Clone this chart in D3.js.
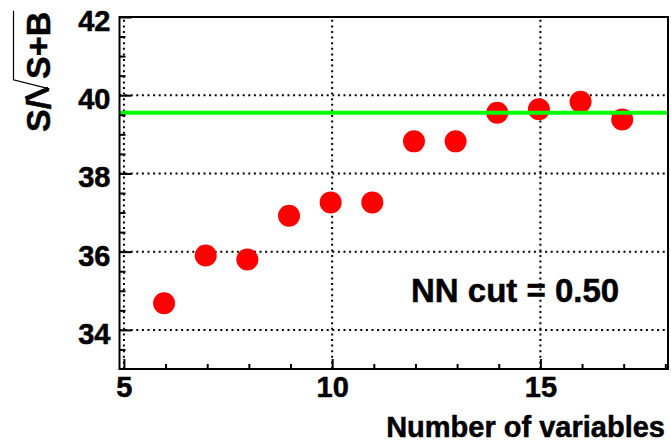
<!DOCTYPE html>
<html>
<head>
<meta charset="utf-8">
<script src="https://cdn.jsdelivr.net/npm/d3@7"></script>
<style>
  body { margin: 0; background: #fff; }
  text { font-family: "Liberation Sans", Arial, Helvetica, sans-serif; font-weight: bold; fill: #000; stroke: #000; stroke-width: 0.5px; }
</style>
</head>
<body>
<div id="container"></div>
<script>
// values
const nVariables = [6, 7, 8, 9, 10, 11, 12, 13, 14, 15, 16, 17];
const significance = [34.68, 35.9, 35.8, 36.92, 37.26, 37.26, 38.82, 38.82, 39.55, 39.64, 39.83, 39.38];
const referenceLevel = 39.55;
const xRange = [4.93, 18.1];
const yRange = [33, 42];
const xMajorTicks = [5, 10, 15];
const xMinorTicks = [6, 7, 8, 9, 11, 12, 13, 14, 16, 17, 18];
const yMajorTicks = [34, 36, 38, 40, 42];
const yMinorTicks = [33.5, 34.5, 35, 35.5, 36.5, 37, 37.5, 38.5, 39, 39.5, 40.5, 41, 41.5];
const cutLabel = 'NN cut = 0.50';

const width = 671;
const height = 443;
const frame = { left: 119.5, right: 668, top: 17, bottom: 369 };

const svg = d3.select('#container')
              .append('svg')
              .attr('width', width)
              .attr('height', height);

const x = d3.scaleLinear().domain(xRange).range([frame.left, frame.right]);
const y = d3.scaleLinear().domain(yRange).range([frame.bottom, frame.top]);

// dotted grid
const grid = svg.append('g')
                .attr('stroke', '#000')
                .attr('stroke-width', 2)
                .attr('stroke-dasharray', '2,3.6');
grid.selectAll('.vgrid')
    .data(xMajorTicks)
    .enter()
    .append('line')
    .attr('x1', d => x(d) + 1.5)
    .attr('x2', d => x(d) + 1.5)
    .attr('y1', frame.bottom)
    .attr('y2', frame.top);
grid.selectAll('.hgrid')
    .data(yMajorTicks)
    .enter()
    .append('line')
    .attr('x1', frame.left)
    .attr('x2', frame.right)
    .attr('y1', d => y(d))
    .attr('y2', d => y(d));

// markers
svg.selectAll('circle')
   .data(nVariables)
   .enter()
   .append('circle')
   .attr('cx', d => x(d))
   .attr('cy', (d, i) => y(significance[i]))
   .attr('r', 11)
   .attr('fill', '#ff0000');

// reference level
svg.append('line')
   .attr('x1', frame.left)
   .attr('x2', frame.right)
   .attr('y1', y(referenceLevel))
   .attr('y2', y(referenceLevel))
   .attr('stroke', '#00ff00')
   .attr('stroke-width', 4);

// frame
svg.append('rect')
   .attr('x', frame.left)
   .attr('y', frame.top)
   .attr('width', frame.right - frame.left)
   .attr('height', frame.bottom - frame.top)
   .attr('fill', 'none')
   .attr('stroke', '#000')
   .attr('stroke-width', 2);

// axes, ticks pointing inside
const xAxis = svg.append('g')
                 .attr('transform', 'translate(' + 1.5 + ',' + frame.bottom + ')')
                 .call(d3.axisBottom(x).tickValues(xMajorTicks).tickSize(-10).tickPadding(7));
svg.append('g')
   .attr('transform', 'translate(' + 1.5 + ',' + frame.bottom + ')')
   .call(d3.axisBottom(x).tickValues(xMinorTicks).tickSize(-5).tickFormat(''));

const yAxis = svg.append('g')
                 .attr('transform', 'translate(' + frame.left + ',0)')
                 .call(d3.axisLeft(y).tickValues(yMajorTicks).tickSize(-12).tickPadding(9));
svg.append('g')
   .attr('transform', 'translate(' + frame.left + ',0)')
   .call(d3.axisLeft(y).tickValues(yMinorTicks).tickSize(-6).tickFormat(''));

svg.selectAll('.domain').remove();
svg.selectAll('.tick line').attr('stroke', '#000').attr('stroke-width', 2);
svg.selectAll('.tick text')
   .style('font-family', '"Liberation Sans", Arial, sans-serif')
   .style('font-weight', 'bold')
   .style('font-size', '29px')
   .attr('fill', '#000');
yAxis.selectAll('.tick text').attr('dy', '0.46em');
xAxis.selectAll('.tick text').attr('dy', '0.72em');

// axis titles
svg.append('text')
   .attr('x', 665)
   .attr('y', 437)
   .attr('text-anchor', 'end')
   .style('font-size', '29px')
   .text('Number of variables');

// S/sqrt(S+B), rotated
const yTitle = svg.append('g')
                  .attr('transform', 'translate(49.5,132) rotate(-90)');
const partS = yTitle.append('text')
                    .attr('x', 0)
                    .attr('y', 0)
                    .style('font-size', '34px')
                    .text('S/');
const w = partS.node().getComputedTextLength();
const partRoot = yTitle.append('text')
                       .attr('x', w + 21)
                       .attr('y', 0)
                       .style('font-size', '34px')
                       .text('S+B');
const wRoot = partRoot.node().getComputedTextLength();
yTitle.append('path')
      .attr('d', 'M' + (w + 1) + ',-24 L' + (w + 11) + ',-1')
      .attr('fill', 'none')
      .attr('stroke', '#000')
      .attr('stroke-width', 4.5);
yTitle.append('path')
      .attr('d', 'M' + (w + 11) + ',0 L' + (w + 20) + ',-36 L' + (w + 21 + wRoot + 1) + ',-36')
      .attr('fill', 'none')
      .attr('stroke', '#000')
      .attr('stroke-width', 1.2);

// annotation
svg.append('text')
   .attr('x', 411)
   .attr('y', 302)
   .style('font-size', '33px')
   .text(cutLabel);
</script>
</body>
</html>
